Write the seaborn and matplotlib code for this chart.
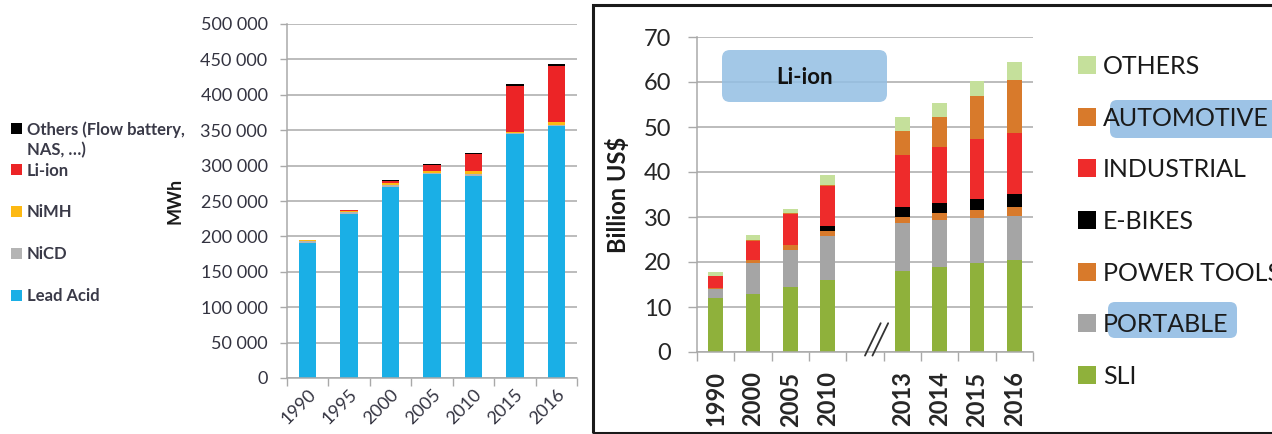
import numpy as np
import matplotlib
matplotlib.use("Agg")
import matplotlib.pyplot as plt
from matplotlib.patches import Rectangle, FancyBboxPatch
from matplotlib.lines import Line2D
from matplotlib.ticker import FuncFormatter, FixedLocator
import seaborn as sns

# ---- Battery demand by chemistry (MWh) ----
energy_years = ["1990", "1995", "2000", "2005", "2010", "2015", "2016"]
lead_acid = [190000, 231000, 270000, 287500, 285500, 344000, 356500]
nicd = [3500, 3500, 3000, 2500, 2000, 1500, 1500]
nimh = [1000, 1500, 3000, 2500, 4500, 2500, 3000]
li_ion = [500, 1000, 2500, 8000, 24000, 64500, 79000]
flow_others = [0, 0, 500, 2000, 2500, 3000, 3000]
energy_labels = ["Others (Flow battery,\nNAS, \u2026)", "Li-ion", "NiMH", "NiCD", "Lead Acid"]
energy_colors = ["#000000", "#ec2426", "#fdb913", "#b4b4b4", "#1aafe6"]

# ---- Battery market by application (billion US$) ----
market_years = ["1990", "2000", "2005", "2010", "2013", "2014", "2015", "2016"]
market_order = ["1990", "2000", "2005", "2010", "", "2013", "2014", "2015", "2016"]
sli = [12.1, 13.0, 14.4, 15.9, 18.1, 19.0, 19.8, 20.5]
portable = [1.9, 6.8, 8.3, 9.8, 10.5, 10.4, 10.0, 9.8]
power_tools = [0.3, 0.7, 1.0, 1.1, 1.4, 1.5, 1.8, 1.9]
e_bikes = [0.0, 0.0, 0.1, 1.1, 2.2, 2.3, 2.4, 2.9]
industrial = [2.7, 4.1, 6.8, 8.9, 11.6, 12.3, 13.3, 13.5]
automotive = [0.0, 0.2, 0.2, 0.4, 5.3, 6.7, 9.5, 11.9]
market_others = [0.8, 1.2, 1.0, 2.2, 3.1, 3.2, 3.5, 4.0]
market_labels = ["OTHERS", "AUTOMOTIVE", "INDUSTRIAL", "E-BIKES", "POWER TOOLS", "PORTABLE", "SLI"]
market_colors = ["#c5e09b", "#d87a2b", "#ee2b2b", "#000000", "#d87a2b", "#a5a5a5", "#8fb13b"]

W, H = 1272, 434
sns.set_theme(style="white")
plt.rcParams["font.family"] = ["Lato", "DejaVu Sans"]

fig = plt.figure(figsize=(W / 100, H / 100), dpi=100)
fig.patch.set_facecolor("white")


def inch(x, y):
    """pixel position (from top-left) -> inches for dpi_scale_trans"""
    return x / 100, (H - y) / 100


def stacked_bars(ax, cats, order, layers, colors, width):
    cum = np.cumsum(np.array(layers, dtype=float), axis=0)
    for i in reversed(range(len(layers))):
        sns.barplot(x=cats, y=cum[i], order=order, color=colors[i], width=width,
                    saturation=1, linewidth=0, errorbar=None, ax=ax)


grid_c = "#a9a9a9"

# ---------------- left panel ----------------
axL = fig.add_axes([287 / W, 1 - 378 / H, 290 / W, 354 / H])
stacked_bars(axL, energy_years, energy_years,
             [lead_acid, nicd, nimh, li_ion, flow_others],
             energy_colors[::-1], 0.42)
axL.set_ylim(0, 500000)
axL.set_xlim(-0.5, len(energy_years) - 0.5)
axL.yaxis.set_major_locator(FixedLocator(np.arange(0, 500001, 50000)))
axL.yaxis.set_major_formatter(FuncFormatter(lambda v, p: f"{int(v):,}".replace(",", " ")))
axL.yaxis.grid(True, color=grid_c, lw=1.1)
axL.set_axisbelow(True)
axL.set_xticks(range(len(energy_years)))
axL.set_xticklabels(energy_years, rotation=45, ha="right", rotation_mode="anchor")
axL.set_xticks(np.arange(-0.5, len(energy_years)), minor=True)
axL.tick_params(axis="x", which="major", length=0, pad=6, labelsize=13, labelcolor="#333340")
axL.tick_params(axis="x", which="minor", length=5.5, width=1, color=grid_c, bottom=True)
axL.tick_params(axis="y", length=5, width=1, color=grid_c, pad=9, labelsize=13,
                labelcolor="#333340", left=True)
for s in ["top", "right"]:
    axL.spines[s].set_visible(False)
for s in ["left", "bottom"]:
    axL.spines[s].set_color(grid_c)
    axL.spines[s].set_linewidth(1.1)
axL.set_xlabel("")
axL.set_ylabel("MWh", fontsize=13, fontweight="bold", color="#1a1a1a")
axL.yaxis.set_label_coords((184 - 287) / 290, 0.5)

# left legend (first line of each label level with its swatch)
leg_y = np.linspace(128, 295, len(energy_labels))
for lab, col, y in zip(energy_labels, energy_colors, leg_y):
    fig.add_artist(Rectangle(inch(11, y + 5.5), 0.11, 0.11, transform=fig.dpi_scale_trans,
                             facecolor=col, edgecolor="none"))
    fig.text(27 / W, 1 - (y - 7) / H, lab, fontsize=12, fontweight="bold",
             color="#3a3a48", va="top", ha="left", linespacing=1.3)

# ---------------- right panel ----------------
fig.add_artist(Rectangle(inch(593, 433), (W + 10 - 593) / 100, 428 / 100,
                         transform=fig.dpi_scale_trans, facecolor="none",
                         edgecolor="#1a1a1a", lw=2.2, zorder=5))

axR = fig.add_axes([697 / W, 1 - 352 / H, 336 / W, 315 / H])
stacked_bars(axR, market_years, market_order,
             [sli, portable, power_tools, e_bikes, industrial, automotive, market_others],
             market_colors[::-1], 0.40)
axR.set_ylim(0, 70)
axR.set_xlim(-0.5, len(market_order) - 0.5)
axR.yaxis.set_major_locator(FixedLocator(np.arange(0, 71, 10)))
axR.yaxis.grid(True, color=grid_c, lw=1.1)
axR.set_axisbelow(True)
axR.set_xticks(range(len(market_order)))
axR.set_xticklabels(market_order, rotation=90, fontweight="bold")
axR.set_xticks(np.arange(-0.5, len(market_order)), minor=True)
axR.tick_params(axis="x", which="major", length=0, pad=14, labelsize=17, labelcolor="#262626")
axR.tick_params(axis="x", which="minor", length=6.5, width=1, color=grid_c, bottom=True)
axR.tick_params(axis="y", length=6.5, width=1, color=grid_c, pad=12, labelsize=17,
                labelcolor="#262626", left=True)
for s in ["top", "right"]:
    axR.spines[s].set_visible(False)
for s in ["left", "bottom"]:
    axR.spines[s].set_color(grid_c)
    axR.spines[s].set_linewidth(1.1)
axR.set_xlabel("")
axR.set_ylabel("Billion US$", fontsize=17, fontweight="bold", color="#1a1a1a")
axR.yaxis.set_label_coords((630 - 697) / 336, 0.5)

# axis break marks in the gap between 2010 and 2013
for dx in (0.0, 0.2):
    axR.add_line(Line2D([4.0 + dx, 4.42 + dx], [-0.8, 6.4], color="#333333", lw=1.3,
                        clip_on=False, zorder=6))

# Li-ion callout
fig.add_artist(FancyBboxPatch(inch(722, 102), 1.65, 0.52, transform=fig.dpi_scale_trans,
                              boxstyle="round,pad=0,rounding_size=0.08",
                              facecolor="#93bfe3", edgecolor="none", alpha=0.85, zorder=3))
fig.text(805 / W, 1 - 78 / H, "Li-ion", fontsize=16, fontweight="bold", color="#111111",
         ha="center", va="center", zorder=4)

# right legend, with highlighted lithium-ion segments
leg_y2 = np.linspace(65, 375, len(market_labels))
highlight = {"AUTOMOTIVE": (1110, 100, 1290, 138), "PORTABLE": (1108, 302, 1237, 338)}
for lab, col, y in zip(market_labels, market_colors, leg_y2):
    if lab in highlight:
        x1, y1, x2, y2 = highlight[lab]
        fig.add_artist(FancyBboxPatch(inch(x1, y2), (x2 - x1) / 100, (y2 - y1) / 100,
                                      transform=fig.dpi_scale_trans,
                                      boxstyle="round,pad=0,rounding_size=0.07",
                                      facecolor="#9dc3e6", edgecolor="none", zorder=1))
    fig.add_artist(Rectangle(inch(1078, y + 9), 0.18, 0.18, transform=fig.dpi_scale_trans,
                             facecolor=col, edgecolor="none", zorder=2))
    fig.text(1103 / W, 1 - (y + 9) / H, lab, fontsize=18, color="#1a1a1a",
             ha="left", va="baseline", zorder=3)

fig.savefig("out.png", dpi=100, facecolor="white")
